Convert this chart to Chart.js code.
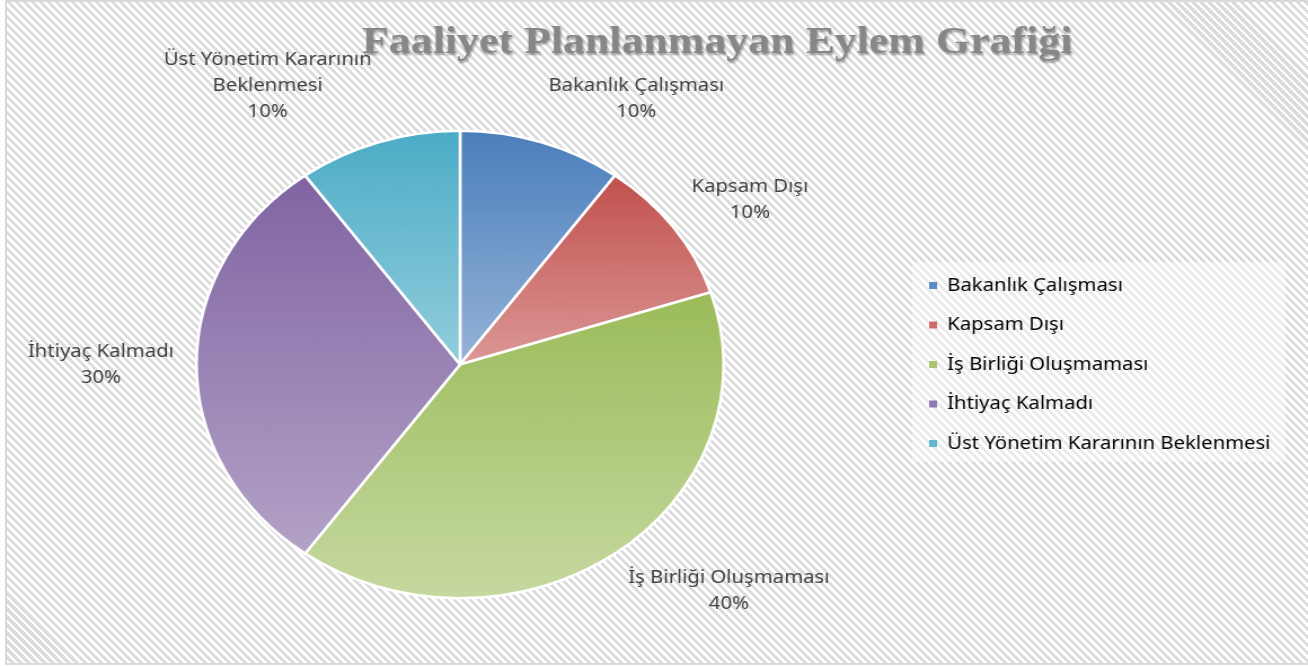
<!DOCTYPE html>
<html>
<head>
<meta charset="utf-8">
<script src="https://cdn.jsdelivr.net/npm/chart.js@4.4.0/dist/chart.umd.min.js"></script>
<style>
html, body { margin: 0; padding: 0; background: #fff; overflow: hidden; }
#frame {
    position: absolute; left: 5px; top: 0; width: 1310px; height: 661px;
    border: 2px solid #d9d9d9;
    background: repeating-linear-gradient(45deg, #fff 0, #fff 2.8px, #dcdcdc 2.8px, #dcdcdc 5.66px);
}
#chart { position: absolute; left: 0; top: 0; }
</style>
</head>
<body>
<div id="frame"></div>
<canvas id="chart" width="1160" height="666" style="width:1308px;height:666px"></canvas>
<script>
const chartTitle = 'Faaliyet Planlanmayan Eylem Grafiği';
const categories = ['Bakanlık Çalışması', 'Kapsam Dışı', 'İş Birliği Oluşmaması', 'İhtiyaç Kalmadı', 'Üst Yönetim Kararının Beklenmesi'];
const values = [10, 10, 40, 30, 10];

// slice gradients: darker at the top of each slice, lighter at its bottom
const topColors = ['#4a7ebb', '#c0504d', '#9bbb59', '#8064a2', '#4bacc6'];
const bottomColors = ['#95b3d7', '#dc9896', '#c6d9a1', '#b3a2c7', '#93cddd'];
const legendColors = ['#5b8cc8', '#cd6b69', '#a8c46e', '#9079b0', '#62b6cf'];

const fontSize = 18;
const labelFont = fontSize + 'px "Noto Sans"';
const total = values.reduce((s, v) => s + v, 0);

// legend width, so the pie sits where it should
const mctx = document.createElement('canvas').getContext('2d');
mctx.font = labelFont;
const longest = Math.max(...categories.map(t => mctx.measureText(t).width));
const legendPad = 21.5;
const legendWidth = legendPad + 7 + fontSize / 2 + longest + 10;
const legendLeft = 802.5;

function sliceGradient(c) {
    const chart = c.chart, a = chart.chartArea, i = c.dataIndex;
    if (!a) return legendColors[i];
    const before = values.slice(0, i).reduce((s, v) => s + v, 0);
    const a0 = -Math.PI / 2 + 2 * Math.PI * before / total;
    const a1 = a0 + 2 * Math.PI * values[i] / total;
    const cy = (a.top + a.bottom) / 2, r = Math.min(a.width, a.height) / 2;
    const ys = [cy, cy + r * Math.sin(a0), cy + r * Math.sin(a1)];
    [-Math.PI / 2, Math.PI / 2, 3 * Math.PI / 2].forEach(k => {
        if (k >= a0 && k <= a1) ys.push(cy + r * Math.sin(k));
    });
    const g = chart.ctx.createLinearGradient(0, Math.min(...ys), 0, Math.max(...ys));
    g.addColorStop(0, topColors[i]);
    g.addColorStop(1, bottomColors[i]);
    return g;
}

function wrap(ctx, text, maxW) {
    const words = text.split(' ');
    const lines = [];
    let cur = '';
    words.forEach(w => {
        const t = cur ? cur + ' ' + w : w;
        if (cur && ctx.measureText(t).width > maxW) { lines.push(cur); cur = w; }
        else cur = t;
    });
    lines.push(cur);
    return lines;
}

const titlePlugin = {
    id: 'titleText',
    afterDraw(chart) {
        const ctx = chart.ctx;
        ctx.save();
        ctx.font = 'bold 38px "Liberation Serif"';
        const w = ctx.measureText(chartTitle).width;
        ctx.translate(636, 53);
        ctx.scale(630 / w, 1);
        ctx.textAlign = 'center';
        ctx.textBaseline = 'alphabetic';
        ctx.shadowColor = 'rgba(0,0,0,0.35)';
        ctx.shadowOffsetX = 1;
        ctx.shadowOffsetY = 1.5;
        ctx.shadowBlur = 2;
        ctx.fillStyle = '#878787';
        ctx.fillText(chartTitle, 0, 0);
        ctx.restore();
    }
};

const legendBackPlugin = {
    id: 'legendBack',
    beforeDraw(chart) {
        const l = chart.legend;
        if (!l) return;
        const ctx = chart.ctx;
        const cy = (l.top + l.bottom) / 2 - 2.5;
        const x0 = l.left + legendPad - 15;
        const x1 = l.left + legendPad + 7 + fontSize / 2 + longest + 13;
        ctx.save();
        ctx.fillStyle = 'rgba(255,255,255,0.4)';
        ctx.fillRect(x0, cy - 100, x1 - x0, 200);
        ctx.restore();
    }
};

const sliceLabelPlugin = {
    id: 'sliceLabels',
    afterDatasetsDraw(chart, args, opts) {
        const ctx = chart.ctx;
        const meta = chart.getDatasetMeta(0);
        ctx.save();
        ctx.font = labelFont;
        ctx.fillStyle = '#404040';
        ctx.textAlign = 'center';
        ctx.textBaseline = 'middle';
        meta.data.forEach((arc, i) => {
            const p = arc.getProps(['x', 'y', 'startAngle', 'endAngle', 'outerRadius'], true);
            const mid = (p.startAngle + p.endAngle) / 2;
            const ax = p.x + (p.outerRadius + opts.gap) * Math.cos(mid);
            const ay = p.y + (p.outerRadius + opts.gap) * Math.sin(mid);
            const lines = wrap(ctx, categories[i], opts.maxWidth);
            lines.push(Math.round(values[i] / total * 100) + '%');
            const bw = Math.max(...lines.map(t => ctx.measureText(t).width));
            const h = lines.length * opts.lineHeight;
            const cx = Math.cos(mid) >= 0 ? ax + bw / 2 : ax - bw / 2;
            const cy = ay + Math.sin(mid) * h / 2;
            lines.forEach((t, k) => {
                ctx.fillText(t, cx, cy - h / 2 + opts.lineHeight * (k + 0.5));
            });
        });
        ctx.restore();
    }
};

new Chart(document.getElementById('chart'), {
    type: 'pie',
    data: {
        labels: categories,
        datasets: [{
            data: values,
            backgroundColor: sliceGradient,
            borderColor: '#ffffff',
            borderWidth: 2.5
        }]
    },
    options: {
        responsive: false,
        animation: false,
        layout: {
            padding: { left: 13.5, right: 1160 - legendLeft - legendWidth, top: 129.5, bottom: 66.5 }
        },
        plugins: {
            title: { display: false },
            tooltip: { enabled: false },
            legend: {
                position: 'right',
                align: 'center',
                labels: {
                    boxWidth: 7,
                    boxHeight: 7,
                    padding: legendPad,
                    color: '#595959',
                    font: { family: '"Noto Sans"', size: fontSize },
                    generateLabels() {
                        return categories.map((t, i) => ({
                            text: t, fillStyle: legendColors[i], strokeStyle: legendColors[i],
                            lineWidth: 0, hidden: false, index: i
                        }));
                    }
                }
            },
            sliceLabels: { gap: 20, maxWidth: 215, lineHeight: 26 }
        }
    },
    plugins: [legendBackPlugin, sliceLabelPlugin, titlePlugin]
});
</script>
</body>
</html>
